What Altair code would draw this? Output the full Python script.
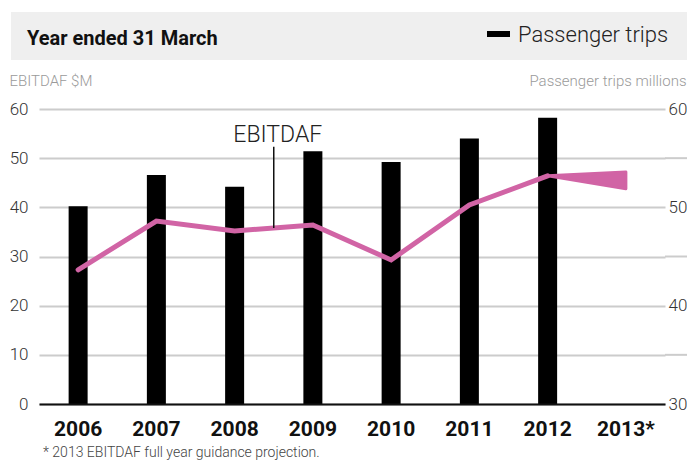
import altair as alt
import pandas as pd

# ---- data ----
years = ["2006", "2007", "2008", "2009", "2010", "2011", "2012", "2013*"]
trip_years = ["2006", "2007", "2008", "2009", "2010", "2011", "2012"]
passenger_trips = [50.1, 53.3, 52.1, 55.7, 54.6, 57.0, 59.1]   # millions (right axis)
ebitdaf = [27.3, 37.2, 35.2, 36.4, 29.3, 40.5, 46.4]           # $M (left axis)
proj_years = ["2012", "2013*"]
proj_high = [46.4, 47.2]
proj_low = [46.4, 43.8]
left_ticks = [0, 10, 20, 30, 40, 50, 60]
right_ticks = [30, 40, 50, 60]
grid_extension_values = [10, 30, 50]

title_text = "Year ended 31 March"
legend_text = "Passenger trips"
left_title = "EBITDAF $M"
right_title = "Passenger trips millions"
annotation_text = "EBITDAF"
annotation_year = "2008"
annotation_top = 52.3
annotation_bottom = 35.8
annotation_label_y = 53.35
footnote_text = "* 2013 EBITDAF full year guidance projection."

PINK = "#d164a5"
FONT = "Roboto"
W, H = 630, 295

x_scale = alt.Scale(domain=years, range=[4, W], paddingInner=0, paddingOuter=0)
x_axis = alt.Axis(
    title=None, labelAngle=0, labelFont=FONT, labelFontWeight="bold",
    labelFontSize=21, labelColor="#111", labelBaseline="alphabetic",
    labelPadding=31, ticks=False, tickSize=0, domain=True,
    domainColor="#111", domainWidth=2, grid=False, zindex=1,
)


def xenc(band_pos=None):
    if band_pos is None:
        return alt.X("year:N", scale=x_scale, sort=years, axis=x_axis)
    return alt.X("year:N", scale=x_scale, sort=years, axis=x_axis, bandPosition=band_pos)


left_scale = alt.Scale(domain=[0, 60], nice=False, zero=True)
right_scale = alt.Scale(domain=[30, 60], nice=False, zero=False)

left_axis = alt.Axis(
    orient="left", values=left_ticks, grid=True, gridColor="#cccccc", gridWidth=2,
    ticks=False, tickSize=0, domain=False, labelPadding=7, labelFont=FONT,
    labelFontWeight=300, labelFontSize=17, labelColor="#333",
    title=left_title, titleAngle=0, titleAlign="left", titleBaseline="alphabetic",
    titleX=-26, titleY=-24, titleFont=FONT, titleFontWeight=300,
    titleFontSize=15, titleColor="#9a9a9a",
)
right_axis = alt.Axis(
    orient="right", values=right_ticks, grid=False, ticks=False, tickSize=0,
    domain=False, labelPadding=3, labelFont=FONT, labelFontWeight=300,
    labelFontSize=17, labelColor="#333",
    title=right_title, titleAngle=0, titleAlign="right", titleBaseline="alphabetic",
    titleX=21, titleY=-24, titleFont=FONT, titleFontWeight=300,
    titleFontSize=15, titleColor="#9a9a9a",
)

bars_df = pd.DataFrame({"year": trip_years, "trips": passenger_trips})
line_df = pd.DataFrame({"year": trip_years, "ebitdaf": ebitdaf})
proj_df = pd.DataFrame({"year": proj_years, "high": proj_high, "low": proj_low})
ann_df = pd.DataFrame({
    "year": [annotation_year], "top": [annotation_top],
    "bottom": [annotation_bottom], "label_y": [annotation_label_y],
    "label": [annotation_text],
})
ext_df = pd.DataFrame({"v": grid_extension_values})
one = pd.DataFrame({"k": [0]})

header_band = alt.Chart(one).mark_rect(color="#efefef").encode(
    x=alt.value(-24), x2=alt.value(670), y=alt.value(-97), y2=alt.value(-49)
)
header_title = alt.Chart(one).mark_text(
    font=FONT, fontWeight="bold", fontSize=20, color="#111",
    align="left", baseline="alphabetic",
).encode(x=alt.value(-8), y=alt.value(-64), text=alt.value(title_text))
legend_swatch = alt.Chart(one).mark_rect(color="black").encode(
    x=alt.value(452), x2=alt.value(475), y=alt.value(-78), y2=alt.value(-72)
)
legend_label = alt.Chart(one).mark_text(
    font=FONT, fontWeight=300, fontSize=22, color="#222",
    align="left", baseline="alphabetic",
).encode(x=alt.value(483), y=alt.value(-67), text=alt.value(legend_text))

grid_ext = alt.Chart(ext_df).mark_rule(color="#cccccc", strokeWidth=2).encode(
    x=alt.value(W), x2=alt.value(W + 24),
    y=alt.Y("v:Q", scale=left_scale, axis=None),
)

bars = alt.Chart(bars_df).mark_bar(size=19, color="black").encode(
    x=xenc(),
    y=alt.Y("trips:Q", scale=right_scale, axis=right_axis),
    y2=alt.datum(30),
)

line = alt.Chart(line_df).mark_line(
    color=PINK, strokeWidth=5, strokeCap="round"
).encode(
    x=xenc(),
    y=alt.Y("ebitdaf:Q", scale=left_scale, axis=left_axis),
)

wedge = alt.Chart(proj_df).mark_area(
    color=PINK, stroke=PINK, strokeWidth=3, strokeJoin="round", opacity=1
).encode(
    x=xenc(),
    y=alt.Y("high:Q", scale=left_scale, axis=None),
    y2="low:Q",
)

ann_rule = alt.Chart(ann_df).mark_rule(color="#111", strokeWidth=1.5).encode(
    x=xenc(1),
    y=alt.Y("top:Q", scale=left_scale, axis=None),
    y2="bottom:Q",
)
ann_text = alt.Chart(ann_df).mark_text(
    font=FONT, fontWeight=300, fontSize=23, color="#222",
    align="center", baseline="alphabetic", dx=4,
).encode(
    x=xenc(1),
    y=alt.Y("label_y:Q", scale=left_scale, axis=None),
    text="label:N",
)

footnote = alt.Chart(one).mark_text(
    font=FONT, fontWeight=300, fontSize=14, color="#444",
    align="left", baseline="alphabetic",
).encode(x=alt.value(8), y=alt.value(348), text=alt.value(footnote_text))

chart = alt.layer(
    header_band, header_title, legend_swatch, legend_label,
    grid_ext, bars, line, wedge, ann_rule, ann_text, footnote,
).resolve_scale(y="independent").properties(
    width=W, height=H,
    autosize=alt.AutoSizeParams(type="none"),
    padding={"left": 27, "top": 101, "right": 22, "bottom": 56},
    background="white",
).configure_view(stroke=None)

chart.save("out.html", embed_options={"renderer": "svg", "actions": False})
